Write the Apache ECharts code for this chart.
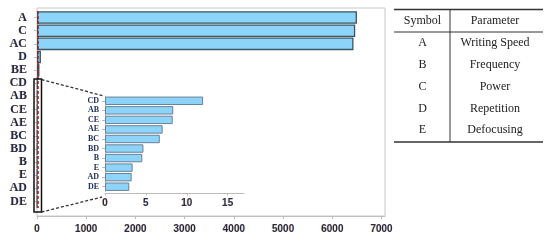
<!DOCTYPE html>
<html>
<head>
<meta charset="utf-8">
<script src="https://cdn.jsdelivr.net/npm/echarts@6/dist/echarts.min.js"></script>
<style>
  html, body { margin: 0; padding: 0; background: #fff; }
  #chart { width: 550px; height: 245px; }
</style>
</head>
<body>
<div id="chart"></div>
<script>
// effects, sorted as in the pareto chart (top to bottom)
var mainLabels = ['A', 'C', 'AC', 'D', 'BE', 'CD', 'AB', 'CE', 'AE', 'BC', 'BD', 'B', 'E', 'AD', 'DE'];
var mainValues = [6500, 6465, 6430, 80, 50, 12.0, 8.35, 8.28, 7.05, 6.7, 4.7, 4.56, 3.38, 3.26, 2.97];

// zoomed part: the small effects
var insetLabels = mainLabels.slice(5);
var insetValues = mainValues.slice(5);

var mainTicks = [0, 1000, 2000, 3000, 4000, 5000, 6000, 7000];
var insetTicks = [0, 5, 10, 15];
var critValue = 14;

// legend table
var tableSymbols = ['A', 'B', 'C', 'D', 'E'];
var tableParams = ['Writing Speed', 'Frequency', 'Power', 'Repetition', 'Defocusing'];

var navy = '#1c2c55';
var fringe = {
  textShadowColor: 'rgba(240,150,40,0.55)',
  textShadowOffsetX: -0.7,
  textShadowBlur: 0.5
};

function tickLabel(list) {
  return function(v) {
    return list.indexOf(v) >= 0 ? String(v) : '';
  };
}

var myChart = echarts.init(document.getElementById('chart'));

// table drawn with graphic elements
var tableEls = [
  { type: 'line', shape: { x1: 394, y1: 9.5, x2: 543, y2: 9.5 }, style: { stroke: '#333', lineWidth: 1.3 } },
  { type: 'line', shape: { x1: 394, y1: 32, x2: 543, y2: 32 }, style: { stroke: '#333', lineWidth: 1 } },
  { type: 'line', shape: { x1: 394, y1: 142, x2: 543, y2: 142 }, style: { stroke: '#333', lineWidth: 1.3 } },
  { type: 'line', shape: { x1: 450, y1: 9.5, x2: 450, y2: 142 }, style: { stroke: '#333', lineWidth: 1 } },
  { type: 'text', x: 422.5, y: 20.5, style: { text: 'Symbol', font: '12px "Liberation Serif"', fill: '#222', align: 'center', verticalAlign: 'middle' } },
  { type: 'text', x: 495, y: 20.5, style: { text: 'Parameter', font: '12px "Liberation Serif"', fill: '#222', align: 'center', verticalAlign: 'middle' } }
];
tableSymbols.forEach(function(s, i) {
  var y = 43 + i * 21.8;
  tableEls.push({ type: 'text', x: 422.5, y: y, style: { text: s, font: '12px "Liberation Serif"', fill: '#222', align: 'center', verticalAlign: 'middle' } });
  tableEls.push({ type: 'text', x: 495, y: y, style: { text: tableParams[i], font: '12px "Liberation Serif"', fill: '#222', align: 'center', verticalAlign: 'middle' } });
});

var zoomEls = [
  // plot frame
  { type: 'rect', z: 1, shape: { x: 37, y: 8, width: 348, height: 208 }, style: { fill: 'none', stroke: '#c8c8c8', lineWidth: 1 } },
  // box around the small effects
  { type: 'rect', z: 20, shape: { x: 34, y: 79, width: 7.5, height: 133 }, style: { fill: 'none', stroke: '#111', lineWidth: 1.5 } },
  { type: 'line', z: 20, shape: { x1: 41.5, y1: 79.5, x2: 104, y2: 96 }, style: { stroke: '#333', lineWidth: 1.3, lineDash: [3, 2] } },
  { type: 'line', z: 20, shape: { x1: 41.5, y1: 212, x2: 102, y2: 197 }, style: { stroke: '#333', lineWidth: 1.3, lineDash: [3, 2] } }
];

var option = {
  animation: false,
  grid: [
    { left: 37, top: 11, width: 348, height: 197 },
    { left: 105, top: 96, width: 139, height: 95.5 }
  ],
  xAxis: [{
    type: 'value',
    gridIndex: 0,
    min: 0,
    max: 7070,
    interval: 1000,
    offset: 8,
    splitLine: { show: false },
    axisLine: { show: true, lineStyle: { color: '#bbb' } },
    axisTick: { show: true, length: 3, lineStyle: { color: '#bbb' } },
    axisLabel: Object.assign({
      margin: 8,
      color: navy,
      fontFamily: 'Liberation Sans',
      fontWeight: 'bold',
      fontSize: 10,
      showMaxLabel: false,
      formatter: tickLabel(mainTicks)
    }, fringe)
  }, {
    type: 'value',
    gridIndex: 1,
    min: 0,
    max: 17,
    interval: 5,
    offset: 2,
    splitLine: { show: false },
    axisLine: { show: true, lineStyle: { color: '#bbb' } },
    axisTick: { show: true, length: 2, lineStyle: { color: '#bbb' } },
    axisLabel: Object.assign({
      margin: 5,
      color: navy,
      fontFamily: 'Liberation Sans',
      fontWeight: 'bold',
      fontSize: 10,
      showMaxLabel: false,
      formatter: tickLabel(insetTicks)
    }, fringe)
  }],
  yAxis: [{
    type: 'category',
    gridIndex: 0,
    inverse: true,
    data: mainLabels,
    axisLine: { show: false },
    axisTick: { show: true, interval: 0, alignWithLabel: true, length: 3, lineStyle: { color: '#bbb' } },
    axisLabel: Object.assign({
      interval: 0,
      margin: 10,
      color: navy,
      fontFamily: 'Liberation Serif',
      fontWeight: 'bold',
      fontSize: 12
    }, fringe)
  }, {
    type: 'category',
    gridIndex: 1,
    inverse: true,
    data: insetLabels,
    axisLine: { show: true, lineStyle: { color: '#bbb' } },
    axisTick: { show: true, interval: 0, alignWithLabel: true, length: 3, lineStyle: { color: '#bbb' } },
    axisLabel: {
      interval: 0,
      margin: 6,
      color: navy,
      fontFamily: 'Liberation Serif',
      fontWeight: 'bold',
      fontSize: 8
    }
  }],
  series: [{
    name: 'effect',
    type: 'bar',
    xAxisIndex: 0,
    yAxisIndex: 0,
    data: mainValues,
    barCategoryGap: '4%',
    itemStyle: {
      color: '#8dd4fa',
      borderColor: '#3c5560',
      borderWidth: 1.3
    },
    markLine: {
      silent: true,
      symbol: 'none',
      label: { show: false },
      lineStyle: { color: '#a31d1d', type: [3, 2], width: 1.5 },
      data: [{ xAxis: critValue }]
    }
  }, {
    name: 'effect zoom',
    type: 'bar',
    xAxisIndex: 1,
    yAxisIndex: 1,
    data: insetValues,
    barCategoryGap: '12%',
    itemStyle: {
      color: '#8dd4fa',
      borderColor: '#6c8094',
      borderWidth: 1
    }
  }],
  graphic: zoomEls.concat(tableEls)
};

myChart.setOption(option);
</script>
</body>
</html>
